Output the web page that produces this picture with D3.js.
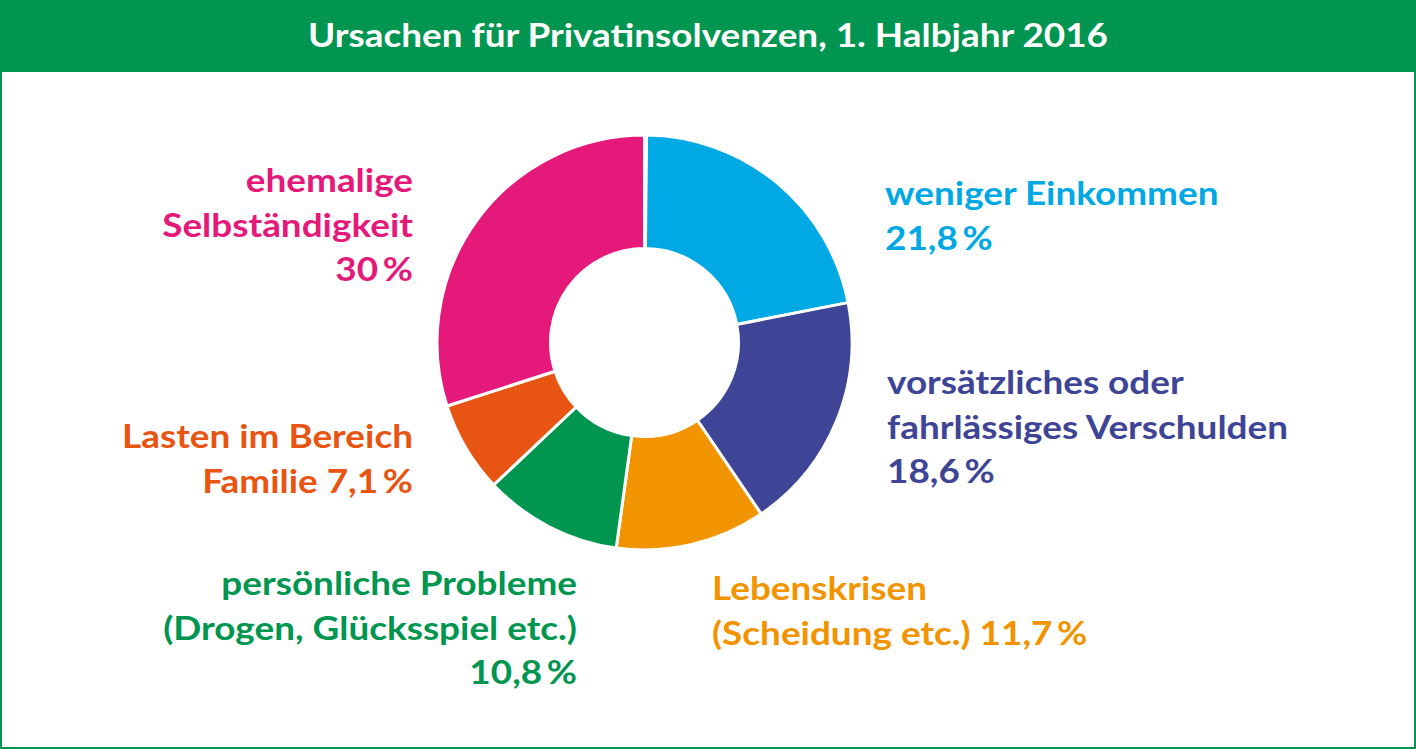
<!DOCTYPE html>
<html>
<head>
<meta charset="utf-8">
<script src="https://cdn.jsdelivr.net/npm/d3@7"></script>
<style>
  html, body { margin: 0; padding: 0; background: #fff; }
  svg { display: block; }
  text { font-family: "Lato", "Noto Sans", sans-serif; font-weight: 700; }
</style>
</head>
<body>
<div id="chart"></div>
<script>
// Data
const title = "Ursachen für Privatinsolvenzen, 1. Halbjahr 2016";
const categories = [
  "weniger Einkommen",
  "vorsätzliches oder fahrlässiges Verschulden",
  "Lebenskrisen (Scheidung etc.)",
  "persönliche Probleme (Drogen, Glücksspiel etc.)",
  "Lasten im Bereich Familie",
  "ehemalige Selbständigkeit"
];
const values = [21.8, 18.6, 11.7, 10.8, 7.1, 30];
const colors = ["#00a8e4", "#3e4496", "#f29400", "#00964f", "#e85412", "#e5197a"];
// label text lines, {v} is replaced by the formatted value
const labelLines = [
  ["weniger Einkommen", "{v}"],
  ["vorsätzliches oder", "fahrlässiges Verschulden", "{v}"],
  ["Lebenskrisen", "(Scheidung etc.) {v}"],
  ["persönliche Probleme", "(Drogen, Glücksspiel etc.)", "{v}"],
  ["Lasten im Bereich", "Familie {v}"],
  ["ehemalige", "Selbständigkeit", "{v}"]
];

// Layout
const W = 1416, H = 749;
const headerH = 72;
const green = "#009550";
const cx = 644.5, cy = 342.5, rOuter = 207.5, rInner = 94;
const lineH = 44.5;
const fontSize = 33;
// label anchor points (first baseline)
const labelPos = [
  { x: 885, y: 205, anchor: "start" },
  { x: 887, y: 394, anchor: "start" },
  { x: 712, y: 600, anchor: "start" },
  { x: 577, y: 595, anchor: "end" },
  { x: 413, y: 448, anchor: "end" },
  { x: 413, y: 192, anchor: "end" }
];

const de = d3.formatLocale({ decimal: ",", thousands: ".", grouping: [3], currency: ["", " €"] });
const fmt = v => (v % 1 ? de.format(".1f")(v) : de.format("d")(v)) + "\u2009%";

const svg = d3.select("#chart").append("svg")
  .attr("width", W).attr("height", H)
  .attr("viewBox", `0 0 ${W} ${H}`);

// frame + header
svg.append("rect")
  .attr("x", 1).attr("y", 1).attr("width", W - 2).attr("height", H - 2)
  .attr("fill", "#fff").attr("stroke", green).attr("stroke-width", 2);
svg.append("rect")
  .attr("x", 0).attr("y", 0).attr("width", W).attr("height", headerH)
  .attr("fill", green);
const titleText = svg.append("text")
  .attr("x", W / 2).attr("y", 47)
  .attr("text-anchor", "middle")
  .attr("fill", "#fff")
  .attr("font-size", fontSize)
  .text(title);

// donut
const data = categories.map((c, i) => ({ name: c, value: values[i], color: colors[i], i }));
const pie = d3.pie().value(d => d.value).sort(null).startAngle(0.01);
const arc = d3.arc().innerRadius(rInner).outerRadius(rOuter);

svg.append("g")
  .attr("transform", `translate(${cx},${cy})`)
  .selectAll("path")
  .data(pie(data))
  .join("path")
  .attr("d", arc)
  .attr("fill", d => d.data.color)
  .attr("stroke", "#fff")
  .attr("stroke-width", 3)
  .attr("stroke-linejoin", "round");

// labels
const labels = svg.append("g").selectAll("text")
  .data(data)
  .join("text")
  .attr("x", d => labelPos[d.i].x)
  .attr("y", d => labelPos[d.i].y)
  .attr("text-anchor", d => labelPos[d.i].anchor)
  .attr("fill", d => d.color)
  .attr("font-size", fontSize);

labels.selectAll("tspan")
  .data(d => labelLines[d.i].map((l, k) => ({ text: l.replace("{v}", fmt(d.value)), k, p: labelPos[d.i] })))
  .join("tspan")
  .attr("x", t => t.p.x)
  .attr("y", t => t.p.y + t.k * lineH)
  .text(t => t.text);

// match the narrower original typeface: scale text horizontally by the title's fit
const natural = titleText.node().getComputedTextLength();
const factor = 800 / natural;
svg.selectAll("text").each(function () {
  const t = d3.select(this);
  const tspans = t.selectAll("tspan");
  if (tspans.empty()) {
    t.attr("textLength", natural * factor).attr("lengthAdjust", "spacingAndGlyphs");
  } else {
    tspans.each(function () {
      const len = this.getComputedTextLength();
      d3.select(this).attr("textLength", len * factor).attr("lengthAdjust", "spacingAndGlyphs");
    });
  }
});
</script>
</body>
</html>
